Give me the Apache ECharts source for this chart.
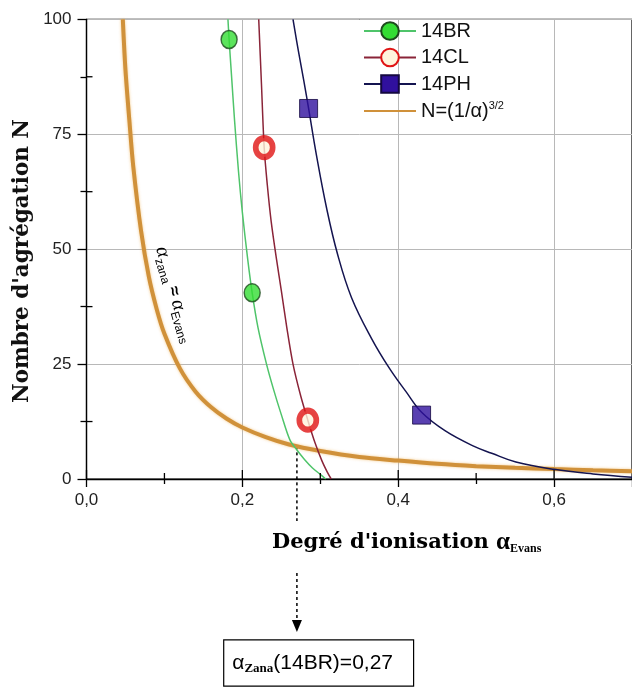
<!DOCTYPE html>
<html><head><meta charset="utf-8">
<script src="https://cdn.jsdelivr.net/npm/echarts@6/dist/echarts.min.js"></script>
<style>html,body{margin:0;padding:0;background:#fff}#c{width:632px;height:688px}</style>
</head><body><div id="c"></div>
<script>
// ---- data ----
const seriesNames = ['14BR', '14CL', '14PH', 'N=(1/α)3/2'];

const brAlpha = [0.183, 0.2126];
const brN = [95.6, 40.5];
const clAlpha = [0.228, 0.284];
const clN = [72.1, 12.8];
const phAlpha = [0.285, 0.43];
const phN = [80.6, 13.9];

const brFitAlpha = [0.1815, 0.183, 0.186, 0.19, 0.195, 0.2, 0.207, 0.2126, 0.22, 0.231, 0.24, 0.25, 0.261, 0.27, 0.28, 0.29, 0.3, 0.307];
const brFitN = [100, 95.6, 88, 78, 67, 58, 47.6, 40.5, 33, 25, 19.5, 14, 8.5, 6.3, 4.2, 2.4, 1, 0];

const clFitAlpha = [0.221, 0.2245, 0.228, 0.232, 0.237, 0.244, 0.25, 0.257, 0.265, 0.275, 0.284, 0.293, 0.302, 0.309, 0.314];
const clFitN = [100, 86, 72.1, 64, 56, 47.6, 41, 33, 25, 18, 12.8, 8, 4, 1.5, 0];

const phFitAlpha = [0.265, 0.272, 0.279, 0.285, 0.295, 0.308, 0.322, 0.34, 0.366, 0.389, 0.41, 0.43, 0.46, 0.496, 0.52, 0.551, 0.6, 0.65, 0.7];
const phFitN = [100, 93, 86.5, 80.6, 70.5, 59, 49, 39.5, 30.5, 24, 19, 14.5, 10.5, 7.2, 5.6, 3.7, 2.1, 1.1, 0.4];

const evansAlpha = [0.0466, 0.05, 0.055, 0.06, 0.07, 0.08, 0.09, 0.1, 0.12, 0.14, 0.16, 0.18, 0.2, 0.23, 0.26, 0.3, 0.35, 0.4, 0.45, 0.5, 0.55, 0.6, 0.65, 0.7];
const evansN = [100, 89, 78, 68, 54, 44, 37, 31.6, 24, 19, 15.6, 13.1, 11.2, 9.1, 7.5, 6.1, 4.8, 4.0, 3.3, 2.8, 2.45, 2.15, 1.9, 1.7];

const xTickLabels = ['0,0', '0,2', '0,4', '0,6'];
const yTickLabels = ['0', '25', '50', '75', '100'];
const xMajorTicks = [0, 0.2, 0.4, 0.6];
const xMinorTicks = [0.1, 0.3, 0.5];
const yMinorTicks = [12.5, 37.5, 62.5, 87.5];
const zanaAlpha = 0.27;
const zanaN = 7.1;
const boxLabel = ['α', 'Zana', '(14BR)=0,27'];

const zip = (a, b) => a.map((v, i) => [v, b[i]]);

const chart = echarts.init(document.getElementById('c'), null, {renderer: 'canvas'});

const sans = 'Liberation Sans, Arial, sans-serif';
const serif = 'Liberation Serif, Times New Roman, serif';
const wideSerif = 'DejaVu Serif, serif';

const brItem = {color: '#33dd33', borderColor: '#1d4a1d', borderWidth: 1.5};
const clItem = {color: '#fff4dc', borderColor: '#e01414', borderWidth: 6};
const phItem = {color: '#30109e', borderColor: '#140840', borderWidth: 1};

const tickLine = {color: '#000', width: 1.3};

const option = {
  animation: false,
  backgroundColor: '#fff',
  grid: {left: 86.5, top: 19.3, right: -9.25, bottom: 209, show: true, borderColor: '#000', borderWidth: 1.2, backgroundColor: 'transparent'},
  legend: {
    data: seriesNames, orient: 'vertical', left: 363, top: 21, itemWidth: 52, itemHeight: 22, itemGap: 6.5, padding: 0,
    textStyle: {fontFamily: sans, fontSize: 20, color: '#111',
      rich: {n: {fontFamily: sans, fontSize: 20, color: '#111'}, sup: {fontFamily: sans, fontSize: 11, color: '#111', verticalAlign: 'top', padding: [0, 0, 10, 0]}}},
    formatter: name => name.indexOf('N=') === 0 ? '{n|N=(1/α)}{sup|3/2}' : name
  },
  xAxis: {
    type: 'value', min: 0, max: 0.7, interval: 0.2,
    axisLine: {lineStyle: tickLine},
    axisTick: {show: true, length: 8, lineStyle: tickLine},
    minorTick: {show: true, splitNumber: 2, length: 5, lineStyle: tickLine},
    axisLabel: {fontFamily: sans, fontSize: 17, color: '#222', margin: 13, showMaxLabel: false,
      formatter: v => xTickLabels[Math.round(v / 0.2)] || ''},
    splitLine: {show: true, lineStyle: {color: '#b8b8b8', width: 1}}
  },
  yAxis: {
    type: 'value', min: 0, max: 100, interval: 25,
    axisLine: {show: true, lineStyle: tickLine},
    axisTick: {show: true, length: 9, lineStyle: tickLine},
    minorTick: {show: true, splitNumber: 2, length: 6, lineStyle: tickLine},
    axisLabel: {fontFamily: sans, fontSize: 17, color: '#222', margin: 15,
      formatter: v => yTickLabels[Math.round(v / 25)]},
    splitLine: {show: true, lineStyle: {color: '#b8b8b8', width: 1}}
  },
  series: [
    {name: seriesNames[0], type: 'line', data: zip(brFitAlpha, brFitN), smooth: 0.3, showSymbol: false,
      symbol: 'circle', symbolSize: [16, 18], lineStyle: {color: '#4fc46a', width: 1.5}, itemStyle: brItem, z: 3, silent: true},
    {name: seriesNames[1], type: 'line', data: zip(clFitAlpha, clFitN), smooth: 0.3, showSymbol: false,
      symbol: 'circle', symbolSize: [16, 18], lineStyle: {color: '#8a2438', width: 1.5}, itemStyle: clItem, z: 3, silent: true},
    {name: seriesNames[2], type: 'line', data: zip(phFitAlpha, phFitN), smooth: 0.4, showSymbol: false,
      symbol: 'rect', symbolSize: 18, lineStyle: {color: '#141450', width: 1.5}, itemStyle: phItem, z: 3, silent: true},
    {name: seriesNames[3], type: 'line', data: zip(evansAlpha, evansN), smooth: 0.3, showSymbol: false, symbol: 'none',
      itemStyle: {color: 'rgba(0,0,0,0)'},
      lineStyle: {color: '#d0913a', width: 4, shadowBlur: 3, shadowColor: 'rgba(240,180,90,0.7)'}, z: 2, silent: true},
    {name: 'pts14BR', type: 'scatter', data: zip(brAlpha, brN), symbol: 'circle', symbolSize: [16, 18], itemStyle: brItem, z: 6, silent: true},
    {name: 'pts14CL', type: 'scatter', data: zip(clAlpha, clN), symbol: 'circle', symbolSize: [17, 19], itemStyle: clItem, z: 6, silent: true},
    {name: 'pts14PH', type: 'scatter', data: zip(phAlpha, phN), symbol: 'rect', symbolSize: 18, itemStyle: phItem, z: 6, silent: true}
  ]
};
chart.setOption(option);

// annotations and inner tick halves positioned from the axes
const px = p => chart.convertToPixel({gridIndex: 0}, p);
const zTop = px([zanaAlpha, zanaN]);
const ax = zTop[0];
const origin = px([0, 0]);
const axisY = origin[1];
const axisX = origin[0];

const tickGraphics = [];
xMajorTicks.forEach(v => { const x = px([v, 0])[0];
  tickGraphics.push({type: 'line', shape: {x1: x, y1: axisY, x2: x, y2: axisY - 9}, style: {stroke: '#000', lineWidth: 1.3}, z: 10}); });
xMinorTicks.forEach(v => { const x = px([v, 0])[0];
  tickGraphics.push({type: 'line', shape: {x1: x, y1: axisY, x2: x, y2: axisY - 6}, style: {stroke: '#000', lineWidth: 1.3}, z: 10}); });
yMinorTicks.forEach(v => { const y = px([0, v])[1];
  tickGraphics.push({type: 'line', shape: {x1: axisX, y1: y, x2: axisX + 6, y2: y}, style: {stroke: '#000', lineWidth: 1.3}, z: 10}); });

chart.setOption({
  graphic: tickGraphics.concat([
    {type: 'text', x: 22, y: 261, rotation: Math.PI / 2,
      style: {text: "Nombre d'agrégation N", font: 'bold 21.5px ' + wideSerif, fill: '#111', align: 'center', verticalAlign: 'middle'}},
    {type: 'text', x: 272, y: 543,
      style: {text: "{t|Degré d'ionisation }{a|α}{s|Evans}", align: 'left', verticalAlign: 'middle',
        rich: {t: {font: 'bold 21px ' + wideSerif, color: '#111'},
               a: {font: 'bold 25px ' + serif, color: '#111'},
               s: {font: 'bold 12px ' + serif, color: '#111', padding: [12, 0, 0, 0]}}}},
    {type: 'line', shape: {x1: ax, y1: zTop[1], x2: ax, y2: axisY + 42},
      style: {stroke: '#000', lineWidth: 1.5, lineDash: [3, 3]}},
    {type: 'line', shape: {x1: ax, y1: 573, x2: ax, y2: 621},
      style: {stroke: '#000', lineWidth: 1.5, lineDash: [3, 3]}},
    {type: 'polygon', shape: {points: [[ax - 5, 620], [ax + 5, 620], [ax, 632]]}, style: {fill: '#000'}},
    {type: 'text', x: 413, y: 663,
      style: {text: '{a|' + boxLabel[0] + '}{s|' + boxLabel[1] + '}{t|' + boxLabel[2] + '}', align: 'right', verticalAlign: 'middle',
        borderColor: '#000', borderWidth: 1.2, padding: [10, 20, 10, 8], backgroundColor: '#fff',
        rich: {a: {font: '21px ' + sans, color: '#111'}, s: {font: 'bold 13px ' + serif, color: '#111', padding: [12, 0, 0, 0]},
               t: {font: '21px ' + sans, color: '#111'}}}},
    {type: 'text', x: 161, y: 247, rotation: -1.286,
      style: {text: '{a|α}{s|zana}{e| ≈ }{a|α}{s|Evans}', align: 'left', verticalAlign: 'middle',
        rich: {a: {font: 'italic 20px ' + serif, color: '#111'}, s: {font: '12px ' + sans, color: '#111', padding: [12, 0, 0, 0]},
               e: {font: 'bold 17px ' + sans, color: '#111'}}}}
  ])
});
</script></body></html>
